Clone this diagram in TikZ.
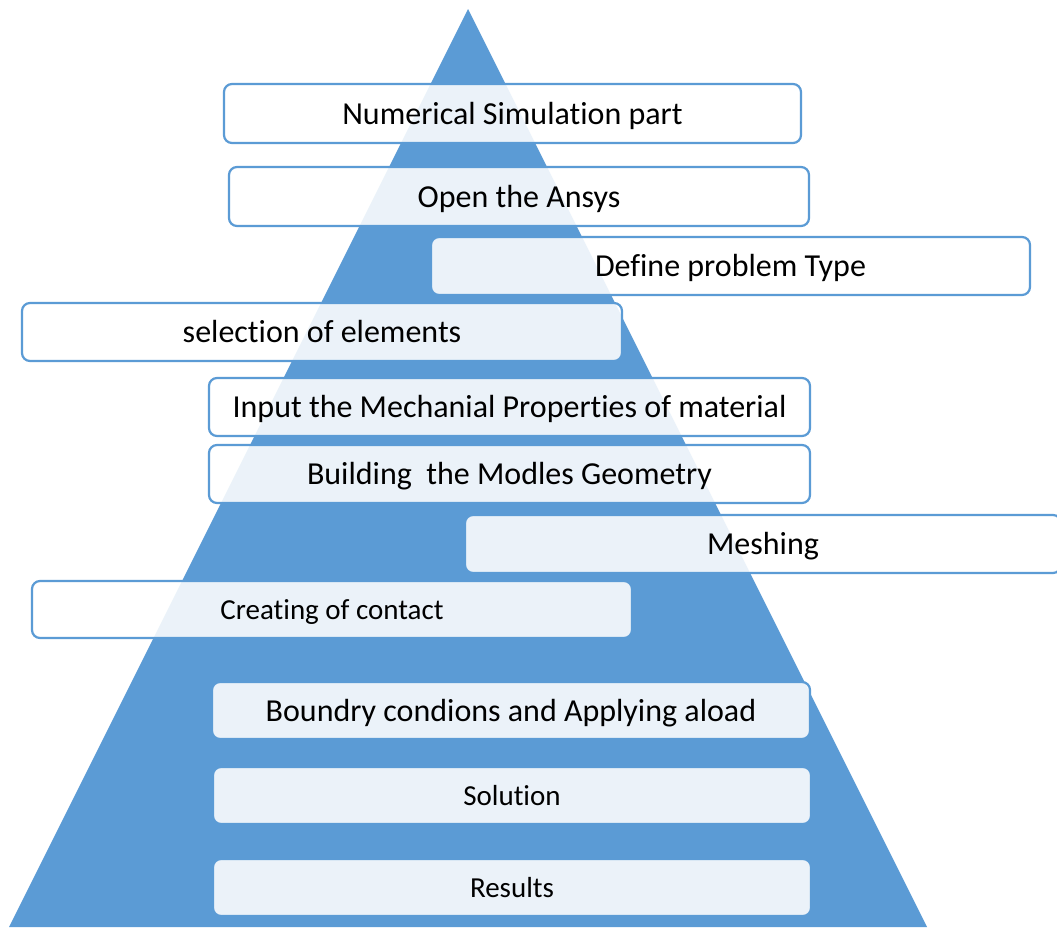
\documentclass[tikz,border=0pt]{standalone}
\usepackage{fontspec}
\setmainfont[Ligatures={NoCommon}]{Carlito}
\definecolor{pyrblue}{HTML}{5B9BD5}
\tikzset{
  stepbox/.style={draw=pyrblue, line width=2.2pt, rounded corners=8pt, fill=white,
    fill opacity=0.88, text opacity=1, inner sep=0pt, text=black,
    font=\fontsize{32}{36}\selectfont, text height=27pt, text depth=6pt},
  smallbox/.style={stepbox, font=\fontsize{29}{33}\selectfont, text height=25pt, text depth=6pt}
}
\begin{document}
\begin{tikzpicture}[x=1pt,y=-1pt]
\useasboundingbox (0,0) rectangle (1057,927);
\fill[white] (0,0) rectangle (1057,927);
\coordinate (apex) at (468,9);
\coordinate (bl) at (9,927);
\coordinate (br) at (927,927);
\fill[pyrblue] (apex) -- (bl) -- (br) -- cycle;
\node[stepbox, minimum width=577pt, minimum height=59pt] (b1) at (512.5,113.5) {Numerical Simulation part};
\node[stepbox, minimum width=580pt, minimum height=59pt] (b2) at (519,196.5) {Open the Ansys};
\node[stepbox, minimum width=599pt, minimum height=58pt] (b3) at (730.5,266) {Define problem Type};
\node[stepbox, minimum width=600pt, minimum height=58pt] (b4) at (322,332) {selection of elements};
\node[stepbox, minimum width=601pt, minimum height=58pt] (b5) at (509.5,407) {Input the Mechanial Properties of material};
\node[stepbox, minimum width=601pt, minimum height=58pt] (b6) at (509.5,474) {Building\ \ the Modles Geometry};
\node[stepbox, minimum width=596pt, minimum height=58pt] (b7) at (763,544) {Meshing};
\node[smallbox, minimum width=600pt, minimum height=57pt] (b8) at (332,609.5) {Creating of contact};
\node[stepbox, minimum width=598pt, minimum height=57pt] (b9) at (511,710.5) {Boundry condions and Applying aload};
\node[smallbox, minimum width=598pt, minimum height=57pt] (b10) at (512,795.5) {Solution};
\node[smallbox, minimum width=598pt, minimum height=57pt] (b11) at (512,887.5) {Results};
\end{tikzpicture}
\end{document}
